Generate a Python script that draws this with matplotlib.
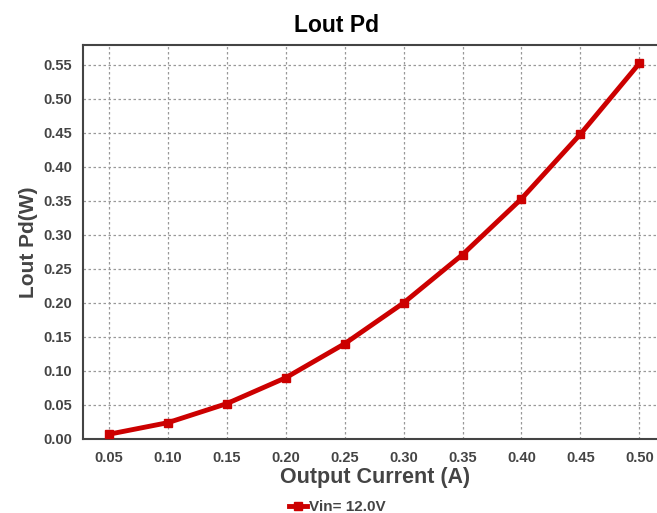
import matplotlib.pyplot as plt

current = [0.05, 0.10, 0.15, 0.20, 0.25, 0.30, 0.35, 0.40, 0.45, 0.50]
pd_12v = [0.007, 0.024, 0.052, 0.090, 0.140, 0.200, 0.271, 0.353, 0.448, 0.552]
yticks = [0.00, 0.05, 0.10, 0.15, 0.20, 0.25, 0.30, 0.35, 0.40, 0.45, 0.50, 0.55]

plt.rcParams['font.family'] = ['Liberation Sans', 'DejaVu Sans']

fig = plt.figure(figsize=(6.57, 5.13), dpi=100)
ax = fig.add_axes([83 / 657, 1 - 439 / 513, 574 / 657, 394 / 513])

ax.plot(current, pd_12v, color='#cc0000', linewidth=3.5, marker='s',
        markersize=6, label='Vin= 12.0V', zorder=3)

ax.set_xlim(0.028, 0.515)
ax.set_ylim(0, 0.579)
ax.set_xticks(current)
ax.set_xticklabels([f'{v:.2f}' for v in current])
ax.set_yticks(yticks)
ax.set_yticklabels([f'{v:.2f}' for v in yticks])
ax.tick_params(length=0, labelsize=10.5, labelcolor='#444444')
ax.tick_params(axis='y', pad=8)
ax.tick_params(axis='x', pad=9)
for lbl in ax.get_xticklabels() + ax.get_yticklabels():
    lbl.set_fontweight('bold')

ax.grid(True, linestyle=(0, (2, 2)), color='#999999', linewidth=0.9)
for side in ['left', 'bottom', 'top']:
    ax.spines[side].set_color('#444444')
    ax.spines[side].set_linewidth(1.5)
ax.spines['right'].set_visible(False)

fig.text(337 / 657, 1 - 25 / 513, 'Lout Pd', ha='center', va='center',
         fontsize=16.5, fontweight='bold', color='black')
fig.text(375 / 657, 1 - 477 / 513, 'Output Current (A)', ha='center',
         va='center', fontsize=15.5, fontweight='bold', color='#444444')
fig.text(29 / 657, 1 - 242 / 513, 'Lout Pd(W)', rotation=90, ha='center',
         va='center', fontsize=15, fontweight='bold', color='#444444')

fig.legend(loc='center', bbox_to_anchor=(337 / 657, 1 - 507 / 513),
           frameon=False, handlelength=1.2, handletextpad=0.1,
           prop={'weight': 'bold', 'size': 11}, labelcolor='#444444')

fig.savefig('out.png', dpi=100)
